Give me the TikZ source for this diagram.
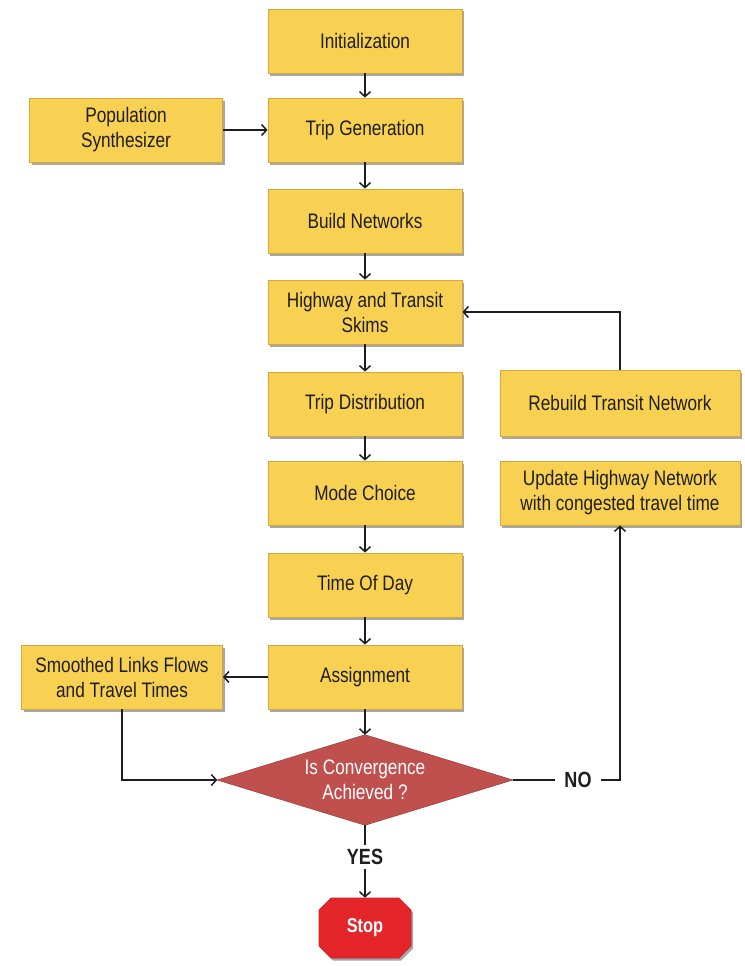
\documentclass[tikz,border=0pt]{standalone}
\usepackage{fontspec}
\setmainfont{Liberation Sans}[FakeStretch=0.82]
\usetikzlibrary{arrows.meta,shapes.geometric,shapes.misc,shadows}
\definecolor{boxfill}{RGB}{249,209,82}
\definecolor{boxline}{RGB}{214,168,58}
\definecolor{decfill}{RGB}{192,80,77}
\definecolor{stopfill}{RGB}{228,38,42}
\definecolor{ink}{RGB}{30,30,30}
\tikzset{
  stepbox/.style={draw=boxline, line width=0.8pt, fill=boxfill,
    minimum width=194pt, minimum height=64pt, align=center, inner sep=2pt,
    text=ink, font=\fontsize{21}{25}\selectfont,
    drop shadow={shadow xshift=2pt, shadow yshift=-2.5pt, opacity=0.35, fill=black}},
  decision/.style={rectangle, minimum width=295pt, minimum height=90pt,
    inner sep=0pt, align=center, text=white, font=\fontsize{21}{25}\selectfont},
  stopbox/.style={chamfered rectangle, chamfered rectangle xsep=6pt,
    chamfered rectangle ysep=6pt, fill=stopfill, draw=stopfill!85!black,
    line width=0.6pt, minimum width=92pt, minimum height=60pt, inner sep=0pt,
    text=white, font=\bfseries\fontsize{20}{24}\selectfont,
    drop shadow={shadow xshift=2pt, shadow yshift=-2.5pt, opacity=0.35, fill=black}},
  tag/.style={font=\bfseries\fontsize{22}{24}\selectfont, text=ink},
  flow/.style={line width=1.5pt, draw=ink, -{Straight Barb[length=5pt,width=11pt]}},
  plain/.style={line width=1.5pt, draw=ink},
}
\begin{document}
\begin{tikzpicture}[x=1pt,y=-1pt]
\useasboundingbox (0,0) rectangle (744,966);

% main chain of model steps
\node[stepbox] (init)   at (365,41)  {Initialization};
\node[stepbox] (tripgen) at (365,130) {Trip Generation};
\node[stepbox] (build)  at (365,221) {Build Networks};
\node[stepbox] (skims)  at (365,312) {Highway and Transit\\Skims};
\node[stepbox] (dist)   at (365,404) {Trip Distribution};
\node[stepbox] (mode)   at (365,493) {Mode Choice};
\node[stepbox] (tod)    at (365,585) {Time Of Day};
\node[stepbox] (assign) at (365,677) {Assignment};

% side inputs and feedback boxes
\node[stepbox, minimum width=193pt] (pop) at (126,130) {Population\\Synthesizer};
\node[stepbox, minimum width=201pt] (smooth) at (122,677) {Smoothed Links Flows\\and Travel Times};
\node[stepbox, minimum width=240pt, minimum height=66pt] (rebuild) at (620,403) {Rebuild Transit Network};
\node[stepbox, minimum width=240pt] (update) at (620,493) {Update Highway Network\\with congested travel time};

% convergence test: a diamond drawn on the corners of its text frame
\node[decision] (conv) at (365,780) {};
\fill[black, opacity=0.3, xshift=2pt, yshift=-2.5pt]
  (conv.north) -- (conv.east) -- (conv.south) -- (conv.west) -- cycle;
\filldraw[fill=decfill, draw=decfill!85!black, line width=0.6pt]
  (conv.north) -- (conv.east) -- (conv.south) -- (conv.west) -- cycle;
\node[decision, draw=none] at (conv) {Is Convergence\\Achieved ?};

\node[tag, inner xsep=9pt, inner ysep=3pt] (no)  at (578,780) {NO};
\node[tag, inner xsep=2pt, inner ysep=4pt] (yes) at (365,857) {YES};
\node[stopbox] (stop) at (365,928) {Stop};

% connectors
\draw[flow] (init) -- (tripgen);
\draw[flow] (pop) -- (tripgen);
\draw[flow] (tripgen) -- (build);
\draw[flow] (build) -- (skims);
\draw[flow] (skims) -- (dist);
\draw[flow] (dist) -- (mode);
\draw[flow] (mode) -- (tod);
\draw[flow] (tod) -- (assign);
\draw[flow] (assign) -- (conv.north);
\draw[flow] (assign.west) -- (smooth.east);
\draw[flow] (smooth.south) |- (conv.west);
\draw[plain] (conv.east) -- (no.west);
\draw[flow] (no.east) -| (update.south);
\draw[flow] (rebuild.north) |- (skims.east);
\draw[plain] (conv.south) -- (yes.north);
\draw[flow] (yes.south) -- (stop.north);
\end{tikzpicture}
\end{document}
